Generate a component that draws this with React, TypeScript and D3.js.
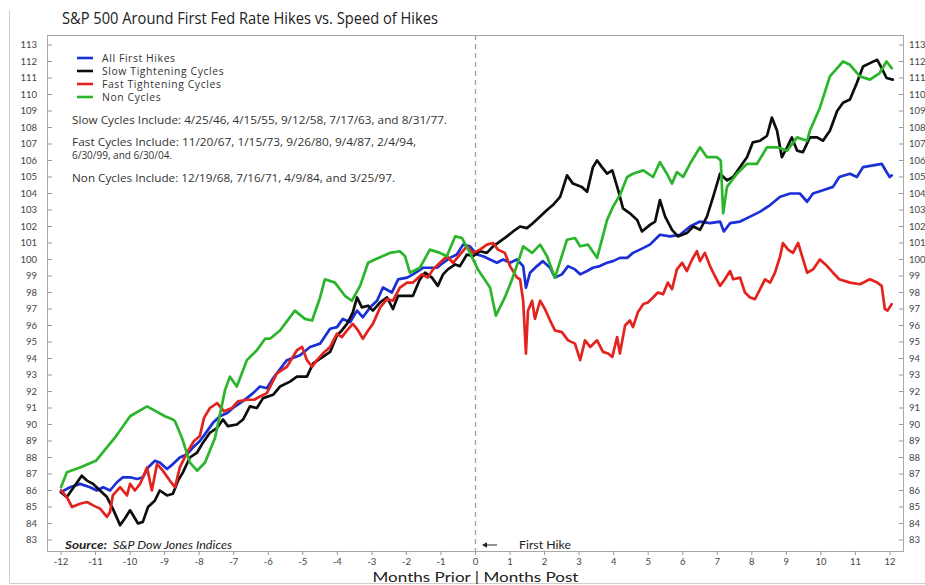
import React from "react";
import * as d3 from "d3";

const TITLE = "S&P 500 Around First Fed Rate Hikes vs. Speed of Hikes";
const SERIES_NAMES = ["All First Hikes", "Slow Tightening Cycles", "Fast Tightening Cycles", "Non Cycles"];
const NOTES = [
  "Slow Cycles Include: 4/25/46, 4/15/55, 9/12/58, 7/17/63, and 8/31/77.",
  "Fast Cycles Include: 11/20/67, 1/15/73, 9/26/80, 9/4/87, 2/4/94,",
  "6/30/99, and 6/30/04.",
  "Non Cycles Include: 12/19/68, 7/16/71, 4/9/84, and 3/25/97.",
];
const X_TICKS = d3.range(-12, 13);
const Y_TICKS = d3.range(83, 114);

// [month, index value]
const allFirstHikes: [number, number][] = [
  [-12, 85.9], [-11.74, 86.2], [-11.45, 86.4], [-11.16, 86.2], [-10.96, 86.0], [-10.78, 86.2], [-10.58, 86.0],
  [-10.38, 86.5], [-10.21, 86.8], [-10.0, 86.8], [-9.8, 86.7], [-9.63, 86.8], [-9.48, 87.4], [-9.28, 87.8],
  [-9.14, 87.7], [-8.93, 87.3], [-8.76, 87.6], [-8.56, 88.0], [-8.35, 88.2], [-8.18, 88.6], [-7.98, 89.0],
  [-7.77, 89.6], [-7.6, 90.1], [-7.4, 90.5], [-7.19, 90.7], [-7.02, 91.0], [-6.82, 91.3], [-6.62, 91.6],
  [-6.44, 91.9], [-6.24, 92.3], [-6.04, 92.2], [-5.86, 92.8], [-5.46, 93.9], [-5.08, 94.2], [-4.79, 94.7],
  [-4.5, 94.9], [-4.21, 95.8], [-4.01, 95.9], [-3.84, 96.4], [-3.63, 96.2], [-3.43, 96.9], [-3.26, 96.5],
  [-3.05, 97.1], [-2.85, 97.5], [-2.68, 98.3], [-2.42, 98.0], [-2.24, 98.8], [-1.98, 98.9], [-1.81, 99.1],
  [-1.52, 99.5], [-1.32, 99.5], [-1.11, 99.5], [-0.94, 99.8], [-0.74, 100.1], [-0.54, 100.3], [-0.36, 100.9],
  [-0.16, 100.8], [0.04, 100.3], [0.22, 100.2], [0.42, 100.0], [0.62, 99.8], [0.8, 100.0], [1.0, 99.8],
  [1.2, 100.0], [1.38, 99.6], [1.46, 98.3], [1.58, 99.2], [1.78, 99.6], [1.95, 99.9], [2.16, 99.5],
  [2.3, 98.9], [2.5, 99.1], [2.68, 99.6], [2.88, 99.4], [3.03, 99.1], [3.23, 99.3], [3.4, 99.5],
  [3.6, 99.6], [3.81, 99.8], [3.98, 99.9], [4.18, 100.1], [4.39, 100.1], [4.56, 100.4], [4.76, 100.6],
  [5.05, 100.9], [5.34, 101.5], [5.63, 101.4], [5.92, 101.5], [6.21, 102.0], [6.5, 102.3], [6.79, 102.2],
  [7.08, 102.3], [7.19, 101.7], [7.37, 102.2], [7.66, 102.3], [7.95, 102.6], [8.24, 102.9], [8.53, 103.3],
  [8.82, 103.8], [9.11, 104.0], [9.39, 104.0], [9.6, 103.5], [9.77, 104.0], [10.06, 104.2], [10.35, 104.4],
  [10.53, 105.0], [10.84, 105.2], [11.04, 105.0], [11.22, 105.6], [11.51, 105.7], [11.76, 105.8],
  [11.9, 105.3], [11.99, 105.0], [12.05, 105.1],
];

const slowCycles: [number, number][] = [
  [-12, 85.9], [-11.83, 85.6], [-11.4, 86.9], [-11.25, 86.6], [-11.07, 86.4], [-10.87, 86.0], [-10.67, 85.6],
  [-10.5, 84.9], [-10.29, 83.9], [-10.15, 84.3], [-10.0, 84.8], [-9.77, 84.0], [-9.63, 84.1], [-9.48, 85.0],
  [-9.28, 85.4], [-9.14, 86.0], [-8.93, 85.7], [-8.76, 85.8], [-8.61, 86.6], [-8.47, 87.1], [-8.27, 88.0],
  [-8.06, 88.3], [-7.89, 88.9], [-7.69, 89.5], [-7.48, 89.8], [-7.31, 90.3], [-7.17, 89.9], [-6.91, 90.0],
  [-6.73, 90.3], [-6.53, 91.1], [-6.33, 91.0], [-6.15, 91.6], [-5.86, 91.8], [-5.66, 92.3], [-5.37, 92.6],
  [-5.17, 92.9], [-4.88, 92.9], [-4.7, 93.7], [-4.42, 94.1], [-4.21, 94.4], [-4.01, 95.4], [-3.87, 95.7],
  [-3.72, 96.1], [-3.55, 96.8], [-3.43, 97.7], [-3.29, 97.1], [-3.11, 97.2], [-2.97, 96.9], [-2.76, 97.4],
  [-2.56, 97.7], [-2.39, 97.0], [-2.24, 97.8], [-1.98, 97.8], [-1.81, 97.8], [-1.61, 98.8], [-1.46, 99.2],
  [-1.26, 98.9], [-1.09, 98.4], [-0.94, 99.1], [-0.8, 99.4], [-0.59, 99.7], [-0.45, 99.6], [-0.25, 100.3],
  [-0.07, 100.2], [0.13, 100.5], [0.33, 100.4], [0.51, 100.8], [0.71, 101.1], [0.91, 101.4], [1.09, 101.7],
  [1.29, 102.0], [1.49, 101.9], [1.66, 102.2], [1.87, 102.6], [2.07, 103.0], [2.24, 103.3], [2.45, 103.8],
  [2.65, 105.1], [2.82, 104.6], [3.08, 104.4], [3.23, 104.1], [3.4, 105.6], [3.52, 106.0], [3.66, 105.6],
  [3.81, 105.2], [3.96, 105.4], [4.13, 104.2], [4.27, 103.1], [4.47, 102.8], [4.68, 102.4], [4.82, 101.7],
  [5.05, 102.1], [5.2, 102.3], [5.34, 103.6], [5.49, 102.6], [5.69, 101.8], [5.86, 101.4], [6.12, 101.6],
  [6.3, 102.0], [6.5, 101.8], [6.7, 102.6], [6.88, 103.8], [7.08, 105.2], [7.28, 104.8], [7.46, 105.0],
  [7.66, 105.6], [7.86, 106.2], [8.03, 107.1], [8.24, 107.2], [8.44, 107.5], [8.58, 108.6], [8.73, 107.8],
  [8.87, 106.2], [9.02, 106.8], [9.16, 107.4], [9.31, 106.6], [9.48, 106.5], [9.68, 107.4], [9.89, 107.4],
  [10.06, 107.2], [10.26, 107.8], [10.47, 109.0], [10.64, 109.5], [10.84, 109.7], [11.04, 110.7],
  [11.22, 111.7], [11.42, 111.9], [11.63, 112.1], [11.76, 111.6], [11.9, 111.0], [12.08, 110.9],
];

const fastCycles: [number, number][] = [
  [-12, 86.0], [-11.83, 85.6], [-11.68, 85.0], [-11.45, 85.2], [-11.25, 85.3], [-11.07, 85.1], [-10.87, 84.9],
  [-10.67, 84.4], [-10.58, 84.7], [-10.5, 85.7], [-10.29, 86.2], [-10.09, 85.7], [-10.0, 86.4], [-9.86, 86.0],
  [-9.71, 86.4], [-9.51, 87.4], [-9.37, 86.0], [-9.22, 87.6], [-9.05, 87.2], [-8.85, 86.6], [-8.7, 86.2],
  [-8.56, 87.4], [-8.35, 88.3], [-8.15, 89.0], [-7.98, 89.3], [-7.86, 90.4], [-7.69, 91.0], [-7.48, 91.3],
  [-7.28, 90.8], [-7.05, 91.0], [-6.88, 91.4], [-6.62, 91.5], [-6.41, 91.5], [-6.24, 91.7], [-6.04, 91.9],
  [-5.75, 93.1], [-5.46, 93.5], [-5.17, 94.5], [-5.02, 94.7], [-4.88, 93.9], [-4.73, 93.5], [-4.59, 93.9],
  [-4.42, 94.3], [-4.21, 94.7], [-4.01, 95.5], [-3.87, 95.3], [-3.72, 95.7], [-3.55, 96.1], [-3.4, 95.7],
  [-3.26, 95.2], [-3.11, 95.7], [-2.97, 96.1], [-2.76, 97.1], [-2.56, 97.6], [-2.39, 97.5], [-2.19, 98.3],
  [-1.98, 98.6], [-1.81, 98.6], [-1.55, 99.1], [-1.38, 98.9], [-1.23, 99.4], [-1.03, 99.8], [-0.83, 100.2],
  [-0.65, 99.8], [-0.45, 100.3], [-0.25, 100.8], [-0.07, 100.4], [0.13, 100.6], [0.33, 100.9], [0.51, 101.0],
  [0.65, 100.6], [0.85, 100.4], [1.0, 99.6], [1.2, 98.9], [1.29, 98.8], [1.38, 97.5], [1.46, 94.3],
  [1.52, 96.9], [1.64, 97.5], [1.72, 96.4], [1.87, 97.5], [2.01, 97.0], [2.16, 96.3], [2.3, 95.7],
  [2.5, 95.6], [2.68, 95.1], [2.88, 94.9], [3.03, 93.9], [3.17, 95.1], [3.32, 94.7], [3.52, 95.1],
  [3.69, 94.4], [3.84, 94.3], [3.96, 94.1], [4.1, 95.3], [4.18, 94.3], [4.33, 96.0], [4.47, 96.3],
  [4.56, 95.9], [4.7, 96.8], [4.86, 97.3], [4.99, 97.4], [5.14, 97.7], [5.28, 98.0], [5.43, 97.9],
  [5.57, 98.6], [5.69, 98.2], [5.83, 99.4], [5.98, 99.8], [6.12, 99.3], [6.27, 100.0], [6.41, 100.5],
  [6.5, 99.9], [6.64, 100.4], [6.79, 99.6], [6.93, 99.0], [7.08, 98.4], [7.22, 98.8], [7.37, 99.3],
  [7.46, 98.8], [7.66, 98.9], [7.8, 98.0], [7.95, 97.7], [8.09, 97.6], [8.24, 98.2], [8.38, 98.8],
  [8.53, 98.6], [8.67, 99.2], [8.82, 100.2], [8.9, 101.0], [9.05, 100.6], [9.19, 100.4], [9.34, 101.0],
  [9.6, 99.2], [9.77, 99.4], [9.97, 100.0], [10.18, 99.6], [10.35, 99.2], [10.53, 98.8], [10.84, 98.6],
  [11.13, 98.5], [11.42, 98.8], [11.63, 98.6], [11.76, 98.4], [11.85, 97.0], [11.93, 96.9], [12.05, 97.3],
];

const nonCycles: [number, number][] = [
  [-12, 86.2], [-11.83, 87.1], [-11.45, 87.4], [-10.99, 87.8], [-10.44, 89.2], [-10.0, 90.5], [-9.51, 91.1],
  [-8.99, 90.5], [-8.76, 90.3], [-8.7, 90.2], [-8.5, 89.2], [-8.27, 87.7], [-8.06, 87.2], [-7.83, 87.7],
  [-7.54, 89.2], [-7.25, 92.1], [-7.11, 92.9], [-6.91, 92.3], [-6.62, 93.9], [-6.33, 94.5], [-6.09, 95.2],
  [-5.95, 95.2], [-5.66, 95.7], [-5.23, 96.9], [-4.94, 96.4], [-4.73, 96.3], [-4.5, 97.7], [-4.36, 98.8],
  [-4.07, 98.6], [-3.78, 97.8], [-3.58, 97.5], [-3.34, 98.4], [-3.11, 99.8], [-2.91, 100.0], [-2.48, 100.4],
  [-2.19, 100.5], [-2.04, 100.2], [-1.9, 99.2], [-1.61, 99.5], [-1.32, 100.6], [-1.03, 100.4], [-0.83, 100.2],
  [-0.59, 101.4], [-0.39, 101.3], [-0.16, 100.4], [0.07, 99.4], [0.42, 98.3], [0.59, 96.6], [0.85, 97.7],
  [1.06, 98.8], [1.29, 100.2], [1.38, 100.8], [1.64, 100.4], [1.87, 100.9], [2.07, 100.2], [2.3, 98.9],
  [2.65, 101.2], [2.88, 101.3], [3.03, 100.8], [3.26, 100.9], [3.52, 100.1], [3.66, 101.2], [3.81, 102.4],
  [3.98, 103.2], [4.18, 103.9], [4.39, 105.0], [4.56, 105.2], [4.86, 105.4], [5.14, 105.0], [5.34, 105.9],
  [5.54, 105.2], [5.69, 104.6], [5.83, 105.3], [6.01, 105.0], [6.21, 105.8], [6.5, 106.8], [6.7, 106.2],
  [6.99, 106.2], [7.1, 106.0], [7.17, 102.8], [7.28, 104.4], [7.57, 105.2], [7.86, 105.8], [8.15, 105.8],
  [8.44, 106.8], [8.73, 106.8], [9.02, 106.6], [9.31, 107.4], [9.6, 107.2], [9.68, 107.8], [9.97, 109.2],
  [10.26, 111.1], [10.64, 112.0], [10.84, 111.8], [11.13, 111.1], [11.42, 110.9], [11.7, 111.3],
  [11.9, 112.0], [12.05, 111.6],
];

const SERIES = [allFirstHikes, slowCycles, fastCycles, nonCycles];
const COLORS = ["#1a2fd6", "#0d0d0d", "#e3231e", "#2bb52b"];

const W = 925;
const H = 585;
const FRAME = { left: 47, right: 903, top: 35, bottom: 551 };
const FONT = "Lato, 'Open Sans', sans-serif";
const BODY_FONT = "'Open Sans', Lato, sans-serif";

export default function App() {
  const x = d3.scaleLinear().domain([-12, 12]).range([61, 890]);
  const y = d3.scaleLinear().domain([83, 113]).range([540, 45]);
  const line = d3
    .line<[number, number]>()
    .x((d) => x(d[0]))
    .y((d) => y(d[1]));

  const zeroX = x(0);

  return (
    <svg
      width={W}
      height={H}
      style={{ position: "absolute", left: 0, top: 0, background: "#fff" }}
      fontFamily={FONT}
    >
      <rect x={0} y={0} width={W} height={H} fill="#fff" />
      {/* outer light border */}
      <line x1={9.5} x2={9.5} y1={10} y2={583.5} stroke="#cfcfcf" />
      <line x1={9.5} x2={W} y1={583.5} y2={583.5} stroke="#cfcfcf" />

      <text x={62} y={24} fontSize={16.5} fill="#222" fontFamily={BODY_FONT} textLength={376} lengthAdjust="spacingAndGlyphs">
        {TITLE}
      </text>

      {/* plot frame */}
      <rect
        x={FRAME.left + 0.5}
        y={FRAME.top + 0.5}
        width={FRAME.right - FRAME.left}
        height={FRAME.bottom - FRAME.top}
        fill="none"
        stroke="#a8a8a8"
      />

      {/* y ticks both sides */}
      {Y_TICKS.map((v) => (
        <g key={v}>
          <line x1={FRAME.left} x2={FRAME.left + 5} y1={y(v)} y2={y(v)} stroke="#999" />
          <line x1={FRAME.right - 4} x2={FRAME.right} y1={y(v)} y2={y(v)} stroke="#999" />
          <text x={37} y={y(v)} dy="0.35em" textAnchor="end" fontSize={9.5} fill="#444">
            {v}
          </text>
          <text x={909} y={y(v)} dy="0.35em" textAnchor="start" fontSize={9.5} fill="#444">
            {v}
          </text>
        </g>
      ))}

      {/* x ticks */}
      {X_TICKS.map((m) => (
        <g key={m}>
          <line x1={x(m)} x2={x(m)} y1={FRAME.bottom} y2={FRAME.bottom + 4} stroke="#999" />
          <text x={x(m)} y={565} textAnchor="middle" fontSize={9.5} fill="#444">
            {m}
          </text>
        </g>
      ))}
      <text x={zeroX} y={582} textAnchor="middle" fontSize={14} fill="#222" textLength={206} lengthAdjust="spacingAndGlyphs">
        Months Prior | Months Post
      </text>

      {/* first hike dashed line */}
      <line
        x1={zeroX}
        x2={zeroX}
        y1={FRAME.top}
        y2={FRAME.bottom}
        stroke="#a0a0a0"
        strokeWidth={1.3}
        strokeDasharray="5,4"
      />

      {/* series */}
      {SERIES.map((s, i) => (
        <path
          key={i}
          d={line(s) || ""}
          fill="none"
          stroke={COLORS[i]}
          strokeWidth={2.7}
          strokeLinejoin="round"
          strokeLinecap="round"
        />
      ))}

      {/* legend */}
      {SERIES_NAMES.map((name, i) => (
        <g key={name}>
          <line x1={77} x2={93} y1={58 + i * 13} y2={58 + i * 13} stroke={COLORS[i]} strokeWidth={2.6} />
          <text x={102} y={58 + i * 13} dy="0.35em" fontSize={10.4} letterSpacing={0.6} fill="#333" fontFamily={BODY_FONT}>
            {name}
          </text>
        </g>
      ))}

      {/* notes */}
      <g fontFamily={BODY_FONT} fontSize={10} fill="#333">
        <text x={72} y={120} dy="0.35em" textLength={375} lengthAdjust="spacingAndGlyphs">{NOTES[0]}</text>
        <text x={72} y={142} dy="0.35em" textLength={344} lengthAdjust="spacingAndGlyphs">{NOTES[1]}</text>
        <text x={72} y={155} dy="0.35em">{NOTES[2]}</text>
        <text x={72} y={178} dy="0.35em" textLength={323} lengthAdjust="spacingAndGlyphs">{NOTES[3]}</text>
      </g>

      {/* source */}
      <text x={65} y={545} dy="0.35em" fontSize={10.5} fill="#222" fontStyle="italic" fontWeight="bold" textLength={42} lengthAdjust="spacingAndGlyphs">
        Source:
      </text>
      <text x={113} y={545} dy="0.35em" fontSize={10.5} fill="#222" fontStyle="italic" textLength={119} lengthAdjust="spacingAndGlyphs">
        S&amp;P Dow Jones Indices
      </text>

      {/* first hike annotation */}
      <line x1={486} x2={497} y1={545} y2={545} stroke="#222" strokeWidth={1} />
      <path d="M482,545 L487,542.3 L487,547.7 Z" fill="#222" />
      <text x={519} y={545} dy="0.35em" fontSize={10.5} fill="#222" textLength={52} lengthAdjust="spacingAndGlyphs">
        First Hike
      </text>
    </svg>
  );
}
